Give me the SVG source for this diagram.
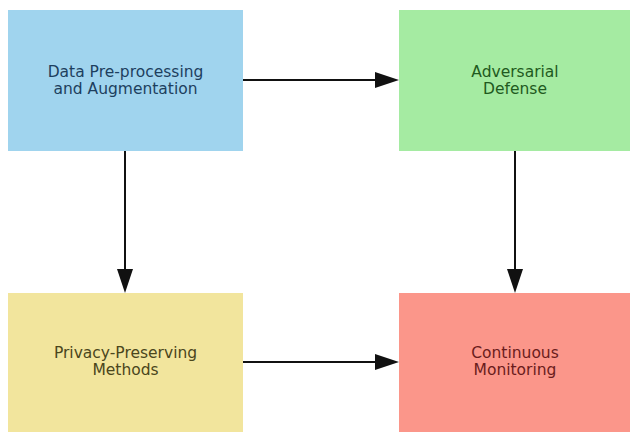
<svg xmlns="http://www.w3.org/2000/svg" width="630" height="432" viewBox="0 0 630 432">
<style>
text{font-family:"DejaVu Sans",sans-serif;font-size:15.5px;text-anchor:middle}
.ln{stroke:#111;stroke-width:2;fill:none}
.hd{fill:#111}
</style>
<rect width="630" height="432" fill="#fff"/>
<g id="connectors">
<path d="M243,80 H385" class="ln"/>
<path d="M375,72 L399,80 L375,88 Z" class="hd"/>
<path d="M125,151 V280" class="ln"/>
<path d="M117,269 L125,293 L133,269 Z" class="hd"/>
<path d="M515,151 V280" class="ln"/>
<path d="M507,269 L515,293 L523,269 Z" class="hd"/>
<path d="M243,362 H385" class="ln"/>
<path d="M375,354 L399,362 L375,370 Z" class="hd"/>
</g>
<g id="n1"><rect x="8" y="10" width="235" height="141" fill="#a0d4ee"/><text fill="#1d3f5e"><tspan x="125.5" y="77">Data Pre-processing</tspan><tspan x="125.5" y="94">and Augmentation</tspan></text></g>
<g id="n2"><rect x="399" y="10" width="231" height="141" fill="#a5eba2"/><text fill="#1f5a20"><tspan x="515" y="77">Adversarial</tspan><tspan x="515" y="94">Defense</tspan></text></g>
<g id="n3"><rect x="8" y="293" width="235" height="139" fill="#f2e59d"/><text fill="#4a461c"><tspan x="125.5" y="358">Privacy-Preserving</tspan><tspan x="125.5" y="375">Methods</tspan></text></g>
<g id="n4"><rect x="399" y="293" width="231" height="139" fill="#fb968a"/><text fill="#6a1c1c"><tspan x="515" y="358">Continuous</tspan><tspan x="515" y="375">Monitoring</tspan></text></g>
</svg>
